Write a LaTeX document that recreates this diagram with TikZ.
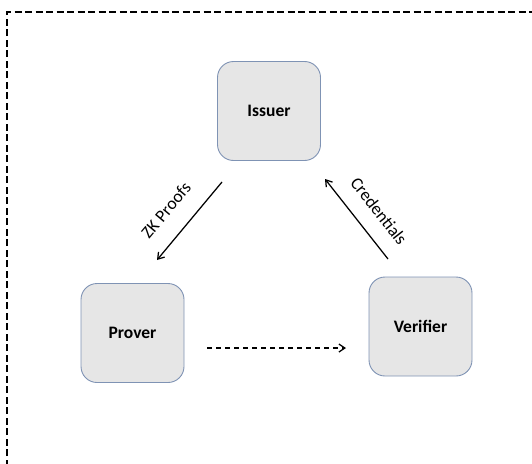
\documentclass[tikz,border=0pt]{standalone}
\usepackage{fontspec}
\setmainfont{Carlito}
\usetikzlibrary{arrows.meta}
\definecolor{boxfill}{HTML}{E6E6E6}
\definecolor{boxline}{HTML}{7F93B4}
\begin{document}
\begin{tikzpicture}[x=1pt,y=-1pt,
  party/.style={draw=boxline, line width=0.9pt, fill=boxfill, rounded corners=16pt,
    minimum width=103pt, minimum height=99pt, font=\fontsize{17.5}{20}\selectfont\bfseries},
  flow/.style={line width=1.25pt, -{Straight Barb[length=6pt,width=8pt,line width=1.25pt]}},
  lbl/.style={font=\fontsize{17.5}{20}\selectfont, inner sep=0pt}]
\useasboundingbox (0,0) rectangle (532,463);
% outer dashed frame, running off the right and bottom edges
\draw[line width=1.2pt, dash pattern=on 7pt off 3.5pt] (7,540) -- (7,12) -- (560,12);
% parties
\node[party] (issuer) at (269,111) {Issuer};
\node[party] (prover) at (132.5,333) {Prover};
\node[party] (verifier) at (420.5,326.5) {Verifier};
% arrow end points
\coordinate (zkS) at (222,182);
\coordinate (zkE) at (157,260);
\coordinate (crS) at (388,259);
\coordinate (crE) at (325,179);
\coordinate (dS) at (207,348);
\coordinate (dE) at (346,348);
% connectors
\draw[flow] (zkS) -- (zkE);
\draw[flow] (crS) -- (crE);
\draw[flow, dash pattern=on 5pt off 4pt] (dS) -- (dE);
% labels
\node[lbl, rotate=50] (zkl) at (166,210) {ZK Proofs};
\node[lbl, rotate=-52] (crl) at (379,211) {Credentials};
\end{tikzpicture}
\end{document}
